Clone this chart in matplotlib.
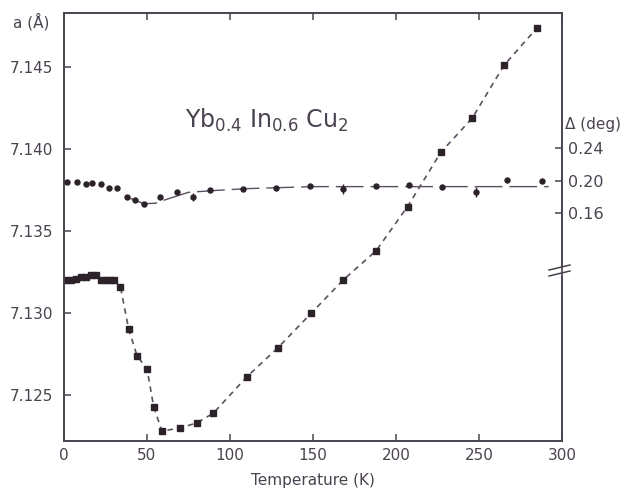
import matplotlib
matplotlib.use("Agg")
import matplotlib.pyplot as plt
from matplotlib.lines import Line2D

# lattice parameter a (left axis)
temp_a = [1, 4, 7, 10, 13, 16, 19, 22, 25, 28, 30,
          34, 39, 44, 50, 54, 59, 70, 80, 90, 110, 129, 149,
          168, 188, 207, 227, 246, 265, 285]
lattice_a = [7.1320, 7.1320, 7.1321, 7.1322, 7.1322, 7.1323, 7.1323, 7.1320,
             7.1320, 7.1320, 7.1320,
             7.1316, 7.1290, 7.1274, 7.1266, 7.1243, 7.1228, 7.1230, 7.1233,
             7.1239, 7.1261, 7.1279, 7.1300, 7.1320, 7.1338, 7.1365, 7.1398,
             7.1419, 7.1451, 7.1474]

# rhombohedral angle deviation (right axis)
temp_d = [2, 8, 13, 17, 22, 27, 32, 38, 43, 48, 58, 68, 78, 88,
          108, 128, 148, 168, 188, 208, 228, 248, 267, 288]
delta = [0.1978, 0.1985, 0.1961, 0.1973, 0.1957, 0.1904, 0.1911, 0.1801,
         0.1760, 0.1707, 0.1801, 0.1855, 0.1793, 0.1883, 0.1899, 0.1911,
         0.1932, 0.1892, 0.1936, 0.1945, 0.1916, 0.1862, 0.2006, 0.1998]
delta_err = [0, 0, 0, 0, 0, 0, 0, 0, 0, 0, 0, 0, 0.005, 0, 0, 0,
             0, 0.006, 0, 0, 0, 0.006, 0, 0]

# guide line drawn through the delta points
fit_t = [40, 48, 55, 62, 75, 93, 110, 150, 292]
fit_d = [0.178, 0.1715, 0.172, 0.177, 0.1855, 0.188, 0.190, 0.1925, 0.1925]

a_ticks = [7.125, 7.130, 7.135, 7.140, 7.145]
d_ticks = [0.16, 0.20, 0.24]
t_ticks = [0, 50, 100, 150, 200, 250, 300]

ink = "#4b4250"
dark = "#2b2329"
plt.rcParams["font.family"] = ["DejaVu Sans"]
plt.rcParams["lines.scale_dashes"] = False

fig = plt.figure(figsize=(6.24, 4.94), dpi=100)
ax = fig.add_axes([64 / 624, 53 / 494, 498 / 624, 428 / 494])
ax2 = ax.twinx()

ax.set_xlim(0, 300)
ax.set_ylim(7.1222, 7.1483)
ax2.set_ylim(-0.1206, 0.4062)

# a(T): dashed guide from the end of the plateau, then squares
start = temp_a.index(30)
ax.plot(temp_a[start:], lattice_a[start:], color="#5a5060", lw=1.2,
        dashes=(4, 3.5), zorder=2)
ax.plot(temp_a, lattice_a, "s", color=dark, ms=4.6, zorder=3)

# delta(T)
ax2.plot(fit_t, fit_d, color="#5a5060", lw=1.0, dashes=(20, 5), zorder=2)
ax2.errorbar(temp_d, delta, yerr=delta_err, fmt="o", ms=3.6, color=dark,
             elinewidth=1.0, capsize=0, zorder=3)

ax.set_xticks(t_ticks)
ax.set_xticklabels([str(t) for t in t_ticks])
ax.set_yticks(a_ticks)
ax.set_yticklabels([f"{v:.3f}" for v in a_ticks])
ax2.set_yticks(d_ticks)
ax2.set_yticklabels([f"{v:.2f}" for v in d_ticks])

ax.tick_params(axis="both", direction="in", length=5, width=1.1, color=ink,
               labelcolor=ink, labelsize=11, top=True)
ax.tick_params(axis="y", pad=8)
ax.tick_params(axis="x", pad=5)
ax2.tick_params(axis="y", direction="in", length=5, width=1.1, color=ink,
                labelcolor=ink, labelsize=11.5, pad=4)

for a_ in (ax, ax2):
    for sp in a_.spines.values():
        sp.set_color(ink)
        sp.set_linewidth(1.2)

ax.set_xlabel("Temperature (K)", fontsize=11, color=ink, labelpad=7)

ax.text(0.408, 0.75, r"Yb$_{0.4}$ In$_{0.6}$ Cu$_2$", transform=ax.transAxes,
        fontsize=17, color=ink, ha="center", va="center")
fig.text(13 / 624, 1 - 22 / 494, "a (Å)", fontsize=11, color=ink,
         ha="left", va="center")
fig.text(565 / 624, 1 - 125 / 494, "Δ (deg)", fontsize=11, color=ink,
         ha="left", va="center")

# axis break on the right spine
ax.add_line(Line2D([1.0, 1.0], [0.392, 0.405], transform=ax.transAxes,
                   color="white", lw=2.5, clip_on=False, zorder=5))
for y0 in (0.3855, 0.3995):
    ax.add_line(Line2D([0.974, 1.016], [y0, y0 + 0.0117], transform=ax.transAxes,
                       color=ink, lw=1.1, clip_on=False, zorder=6))

fig.savefig("out.png", dpi=100)
